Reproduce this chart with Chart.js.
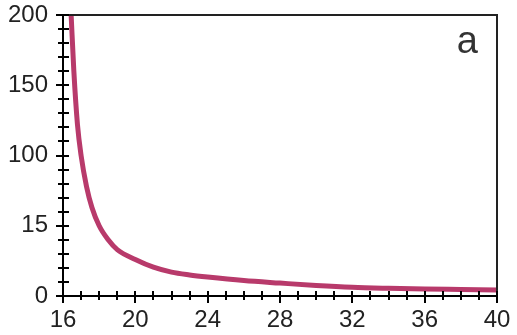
<!DOCTYPE html>
<html>
<head>
<meta charset="utf-8">
<script src="https://cdn.jsdelivr.net/npm/chart.js@4/dist/chart.umd.min.js"></script>
<style>
  html,body{margin:0;padding:0;background:#fff;}
  #wrap{width:517px;height:335px;position:relative;}
</style>
</head>
<body>
<div id="wrap"><canvas id="c"></canvas></div>
<script>
/* ── DATA ── */
const xs = [16.45, 16.6, 16.8, 17, 17.3, 17.6, 18, 18.5, 19, 20, 21, 22, 23, 24, 26, 28, 30, 32, 34, 36, 38, 40];
const ys = [200, 160, 122, 100, 78, 63, 50, 40, 33, 26, 20.5, 17, 15, 13.5, 11, 9.2, 7.5, 6.2, 5.5, 5, 4.6, 4.2];
const yTickVals = [0, 50, 100, 150, 200];
const yTickLabels = ['0', '15', '100', '150', '200'];
const xTickVals = [16, 20, 24, 28, 32, 36, 40];
const panelLabel = 'a';

const FONT = "'Liberation Sans', Arial, sans-serif";

/* ── FRAME + CROSSING TICKS ── */
const frame = {
  id: 'frame',
  afterDraw(chart){
    const {ctx, chartArea:a, scales:{x, y}} = chart;
    ctx.save();
    ctx.strokeStyle = '#222';
    ctx.lineWidth = 2;
    // top + right box lines
    ctx.beginPath();
    ctx.moveTo(a.left, a.top); ctx.lineTo(a.right, a.top); ctx.lineTo(a.right, a.bottom);
    ctx.stroke();
    // y ticks every 10
    ctx.strokeStyle = '#000';
    for (let v = 0; v <= 200; v += 10) {
      const py = Math.round(y.getPixelForValue(v));
      const len = yTickVals.includes(v) ? 7 : 5;
      ctx.beginPath(); ctx.moveTo(a.left - len, py); ctx.lineTo(a.left + 6, py); ctx.stroke();
    }
    // x ticks every 1
    for (let v = 16; v <= 40; v += 1) {
      const px = Math.round(x.getPixelForValue(v));
      const len = xTickVals.includes(v) ? 7 : 4;
      ctx.beginPath(); ctx.moveTo(px, a.bottom - 5); ctx.lineTo(px, a.bottom + len); ctx.stroke();
    }
    // panel letter
    ctx.fillStyle = '#333';
    ctx.font = '38px ' + FONT;
    ctx.textAlign = 'right';
    ctx.textBaseline = 'alphabetic';
    ctx.fillText(panelLabel, a.right - 19, 53);
    ctx.restore();
  }
};

new Chart(document.getElementById('c'), {
  type: 'line',
  data: {
    datasets: [{
      data: xs.map((v, i) => ({x: v, y: ys[i]})),
      borderColor: '#b83a6b',
      borderWidth: 5,
      pointRadius: 0,
      fill: false,
      cubicInterpolationMode: 'monotone'
    }]
  },
  options: {
    responsive: true,
    maintainAspectRatio: false,
    animation: false,
    layout: {padding: {top: 15, right: 20, left: 0, bottom: 0}},
    plugins: {legend: {display: false}, tooltip: {enabled: false}},
    scales: {
      x: {
        type: 'linear', min: 16, max: 40,
        afterBuildTicks: s => { s.ticks = xTickVals.map(v => ({value: v})); },
        afterFit: s => { s.height = 39; s.paddingLeft = 0; s.paddingRight = 0; },
        grid: {display: true, drawOnChartArea: false, drawTicks: false},
        border: {display: true, color: '#000', width: 2},
        ticks: {autoSkip: false, maxRotation: 0, padding: 10, color: '#222', font: {family: FONT, size: 24}}
      },
      y: {
        min: 0, max: 200,
        afterBuildTicks: s => { s.ticks = yTickVals.map(v => ({value: v})); },
        afterFit: s => { s.width = 63; s.paddingTop = 0; s.paddingBottom = 0; },
        grid: {display: true, drawOnChartArea: false, drawTicks: false},
        border: {display: true, color: '#000', width: 2},
        ticks: {
          autoSkip: false, padding: 15, color: '#222', font: {family: FONT, size: 24},
          callback: v => { const i = yTickVals.indexOf(v); return i >= 0 ? yTickLabels[i] : ''; }
        }
      }
    }
  },
  plugins: [frame]
});
</script>
</body>
</html>
